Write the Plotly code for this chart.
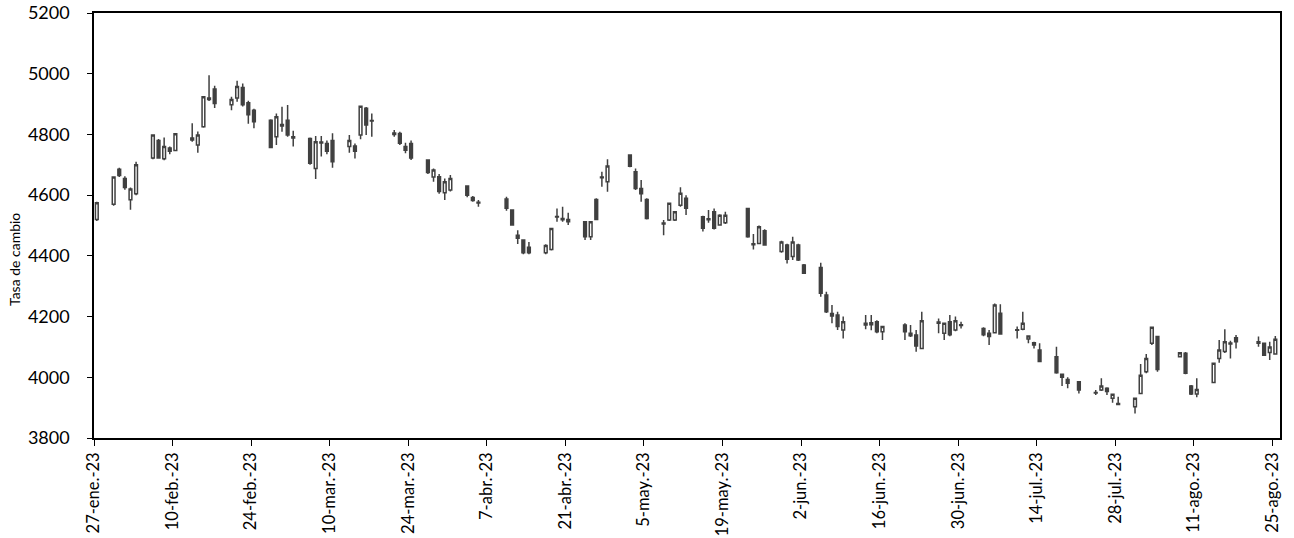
"""Velas diarias de la tasa de cambio, ene.-ago. 2023."""

import plotly.graph_objects as go

# Datos (fecha, apertura, máximo, mínimo, cierre)
fechas = [
    "2023-01-27", "2023-01-30", "2023-01-31", "2023-02-01", "2023-02-02", "2023-02-03",
    "2023-02-06", "2023-02-07", "2023-02-08", "2023-02-09", "2023-02-10",
    "2023-02-13", "2023-02-14", "2023-02-15", "2023-02-16", "2023-02-17",
    "2023-02-20", "2023-02-21", "2023-02-22", "2023-02-23", "2023-02-24",
    "2023-02-27", "2023-02-28", "2023-03-01", "2023-03-02", "2023-03-03",
    "2023-03-06", "2023-03-07", "2023-03-08", "2023-03-09", "2023-03-10",
    "2023-03-13", "2023-03-14", "2023-03-15", "2023-03-16", "2023-03-17",
    "2023-03-21", "2023-03-22", "2023-03-23", "2023-03-24",
    "2023-03-27", "2023-03-28", "2023-03-29", "2023-03-30", "2023-03-31",
    "2023-04-03", "2023-04-04", "2023-04-05",
    "2023-04-10", "2023-04-11", "2023-04-12", "2023-04-13", "2023-04-14",
    "2023-04-17", "2023-04-18", "2023-04-19", "2023-04-20", "2023-04-21",
    "2023-04-24", "2023-04-25", "2023-04-26", "2023-04-27", "2023-04-28",
    "2023-05-02", "2023-05-03", "2023-05-04", "2023-05-05",
    "2023-05-08", "2023-05-09", "2023-05-10", "2023-05-11", "2023-05-12",
    "2023-05-15", "2023-05-16", "2023-05-17", "2023-05-18", "2023-05-19",
    "2023-05-23", "2023-05-24", "2023-05-25", "2023-05-26",
    "2023-05-29", "2023-05-30", "2023-05-31", "2023-06-01", "2023-06-02",
    "2023-06-05", "2023-06-06", "2023-06-07", "2023-06-08", "2023-06-09",
    "2023-06-13", "2023-06-14", "2023-06-15", "2023-06-16",
    "2023-06-20", "2023-06-21", "2023-06-22", "2023-06-23",
    "2023-06-26", "2023-06-27", "2023-06-28", "2023-06-29", "2023-06-30",
    "2023-07-04", "2023-07-05", "2023-07-06", "2023-07-07",
    "2023-07-10", "2023-07-11", "2023-07-12", "2023-07-13", "2023-07-14",
    "2023-07-17", "2023-07-18", "2023-07-19", "2023-07-21",
    "2023-07-24", "2023-07-25", "2023-07-26", "2023-07-27", "2023-07-28",
    "2023-07-31", "2023-08-01", "2023-08-02", "2023-08-03", "2023-08-04",
    "2023-08-08", "2023-08-09", "2023-08-10", "2023-08-11",
    "2023-08-14", "2023-08-15", "2023-08-16", "2023-08-17", "2023-08-18",
    "2023-08-22", "2023-08-23", "2023-08-24", "2023-08-25",
]

apertura = [
    4520, 4570, 4685, 4655, 4585, 4605,
    4722, 4780, 4720, 4755, 4747,
    4788, 4765, 4825, 4920, 4950,
    4898, 4920, 4955, 4904, 4880,
    4847, 4792, 4833, 4847, 4792,
    4787, 4688, 4775, 4770, 4780,
    4760, 4762, 4798, 4886, 4846,
    4805, 4803, 4760, 4770,
    4716, 4660, 4661, 4608, 4617,
    4630, 4592, 4577,
    4587, 4551, 4468, 4452, 4428,
    4410, 4421, 4530, 4523, 4520,
    4512, 4463, 4586, 4660, 4644,
    4732, 4677, 4622, 4586,
    4508, 4518, 4518, 4567, 4590,
    4529, 4522, 4545, 4502, 4509,
    4556, 4440, 4441, 4483,
    4414, 4436, 4398, 4436, 4370,
    4362, 4271, 4202, 4205, 4156,
    4172, 4180, 4183, 4150,
    4172, 4145, 4139, 4095,
    4182, 4145, 4183, 4156, 4173,
    4161, 4145, 4147, 4211,
    4157, 4158, 4126, 4114, 4090,
    4068, 4010, 3993, 3985,
    3950, 3958, 3964, 3931, 3914,
    3903, 3947, 4018, 4112, 4134,
    4068, 4079, 3971, 3945,
    3983, 4062, 4085, 4113, 4130,
    4117, 4112, 4082, 4077,
]

maximo = [
    4578, 4662, 4690, 4662, 4625, 4710,
    4800, 4785, 4790, 4760, 4803,
    4837, 4810, 4925, 4995, 4960,
    4924, 4977, 4968, 4911, 4885,
    4850, 4869, 4891, 4897, 4812,
    4790, 4795, 4795, 4780, 4804,
    4798, 4770, 4895, 4890, 4869,
    4815, 4809, 4773, 4780,
    4718, 4688, 4670, 4655, 4666,
    4632, 4597, 4584,
    4595, 4553, 4484, 4455, 4446,
    4438, 4492, 4556, 4562, 4542,
    4515, 4515, 4590, 4677, 4718,
    4735, 4688, 4650, 4590,
    4518, 4575, 4548, 4626, 4600,
    4532, 4551, 4556, 4537, 4545,
    4558, 4472, 4500, 4488,
    4450, 4440, 4463, 4440, 4373,
    4377, 4282, 4238, 4216, 4200,
    4205, 4205, 4188, 4170,
    4178, 4172, 4156, 4216,
    4194, 4180, 4205, 4200, 4183,
    4165, 4156, 4243, 4241,
    4167, 4216, 4138, 4117, 4112,
    4101, 4012, 4000, 3988,
    3958, 3997, 3967, 3946, 3936,
    3933, 4044, 4077, 4167, 4137,
    4083, 4083, 3975, 3997,
    4048, 4123, 4158, 4120, 4139,
    4134, 4115, 4117, 4136,
]

minimo = [
    4515, 4565, 4660, 4618, 4552, 4600,
    4718, 4720, 4715, 4735, 4745,
    4776, 4740, 4822, 4910, 4887,
    4880, 4908, 4892, 4835, 4820,
    4755, 4765, 4809, 4792, 4760,
    4700, 4653, 4727, 4735, 4690,
    4740, 4721, 4784, 4798, 4792,
    4792, 4765, 4738, 4716,
    4670, 4644, 4605, 4584, 4612,
    4593, 4578, 4562,
    4549, 4500, 4439, 4405, 4405,
    4405, 4418, 4512, 4512, 4502,
    4452, 4452, 4518, 4628, 4611,
    4692, 4617, 4578, 4520,
    4468, 4515, 4515, 4562, 4535,
    4480, 4509, 4487, 4500, 4505,
    4460, 4421, 4438, 4433,
    4410, 4375, 4386, 4383, 4340,
    4265, 4212, 4178, 4156, 4128,
    4158, 4155, 4145, 4123,
    4123, 4133, 4084, 4093,
    4145, 4123, 4135, 4152, 4161,
    4135, 4106, 4145, 4140,
    4128, 4155, 4112, 4095, 4050,
    4012, 3971, 3964, 3947,
    3942, 3955, 3942, 3916, 3909,
    3881, 3945, 4013, 4106, 4018,
    4065, 4010, 3942, 3934,
    3980, 4048, 4080, 4062, 4095,
    4101, 4070, 4057, 4075,
]

cierre = [
    4575, 4660, 4665, 4625, 4620, 4700,
    4798, 4722, 4760, 4745, 4802,
    4782, 4798, 4924, 4915, 4902,
    4915, 4958, 4898, 4865, 4842,
    4757, 4858, 4828, 4798, 4788,
    4705, 4776, 4772, 4745, 4710,
    4780, 4745, 4893, 4831, 4844,
    4800, 4771, 4748, 4722,
    4675, 4683, 4612, 4644, 4655,
    4600, 4582, 4574,
    4557, 4502, 4458, 4410, 4410,
    4434, 4490, 4528, 4519, 4512,
    4463, 4512, 4520, 4657, 4696,
    4695, 4622, 4605, 4523,
    4505, 4573, 4545, 4606, 4557,
    4491, 4519, 4491, 4534, 4534,
    4463, 4437, 4496, 4436,
    4446, 4389, 4446, 4386, 4343,
    4277, 4216, 4210, 4167, 4183,
    4178, 4173, 4150, 4167,
    4150, 4137, 4103, 4186,
    4178, 4178, 4140, 4186, 4171,
    4140, 4134, 4238, 4143,
    4155, 4178, 4136, 4106, 4052,
    4015, 4000, 3980, 3958,
    3948, 3971, 3953, 3944, 3910,
    3931, 4007, 4062, 4165, 4026,
    4081, 4013, 3945, 3960,
    4046, 4090, 4117, 4110, 4117,
    4112, 4073, 4100, 4125,
]

# Marcas del eje x (cada 14 días)
tick_fechas = [
    "2023-01-27", "2023-02-10", "2023-02-24", "2023-03-10", "2023-03-24",
    "2023-04-07", "2023-04-21", "2023-05-05", "2023-05-19", "2023-06-02",
    "2023-06-16", "2023-06-30", "2023-07-14", "2023-07-28", "2023-08-11",
    "2023-08-25",
]
tick_textos = [
    "27-ene.-23", "10-feb.-23", "24-feb.-23", "10-mar.-23", "24-mar.-23",
    "7-abr.-23", "21-abr.-23", "5-may.-23", "19-may.-23", "2-jun.-23",
    "16-jun.-23", "30-jun.-23", "14-jul.-23", "28-jul.-23", "11-ago.-23",
    "25-ago.-23",
]

GRIS = "#404040"
FUENTE = "Lato, 'Open Sans', sans-serif"

fig = go.Figure()

# Cada vela ocupa el centro de su día (entre marcas)
fig.add_trace(go.Candlestick(
    x=[f + " 12:00" for f in fechas],
    open=apertura,
    high=maximo,
    low=minimo,
    close=cierre,
    increasing=dict(fillcolor="white", line=dict(color=GRIS, width=1.5)),
    decreasing=dict(fillcolor=GRIS, line=dict(color=GRIS, width=1.5)),
    whiskerwidth=0,
    showlegend=False,
))

fig.add_annotation(
    text="Tasa de cambio",
    textangle=-90,
    xref="paper", yref="paper",
    x=-0.067, y=0.42,
    xanchor="center", yanchor="middle",
    showarrow=False,
    font=dict(family=FUENTE, size=14, color="black"),
)

fig.update_layout(
    width=1294,
    height=538,
    margin=dict(l=94, r=14, t=13, b=100, autoexpand=False),
    paper_bgcolor="white",
    plot_bgcolor="white",
    font=dict(family=FUENTE, size=18, color="black"),
    xaxis=dict(
        type="date",
        range=["2023-01-27", "2023-08-26 08:00"],
        rangeslider=dict(visible=False),
        tickvals=tick_fechas,
        ticktext=tick_textos,
        tickangle=-90,
        tickfont=dict(size=16.5),
        ticks="outside",
        ticklen=6,
        tickcolor="black",
        ticklabeloverflow="allow",
        showgrid=False,
        showline=True,
        linecolor="black",
        linewidth=1.5,
        mirror=True,
        zeroline=False,
        automargin=False,
    ),
    yaxis=dict(
        range=[3800, 5200],
        dtick=200,
        ticks="outside",
        ticklen=5,
        tickcolor="black",
        ticklabelstandoff=14,
        ticklabeloverflow="allow",
        showgrid=False,
        showline=True,
        linecolor="black",
        linewidth=1.5,
        mirror=True,
        zeroline=False,
        automargin=False,
    ),
)

# Sin el margen por defecto de la página, la figura ocupa toda la ventana
fig.write_html(
    "out.html",
    config={"displayModeBar": False},
    post_script="document.body.style.margin='0';document.body.style.overflow='hidden';",
)
